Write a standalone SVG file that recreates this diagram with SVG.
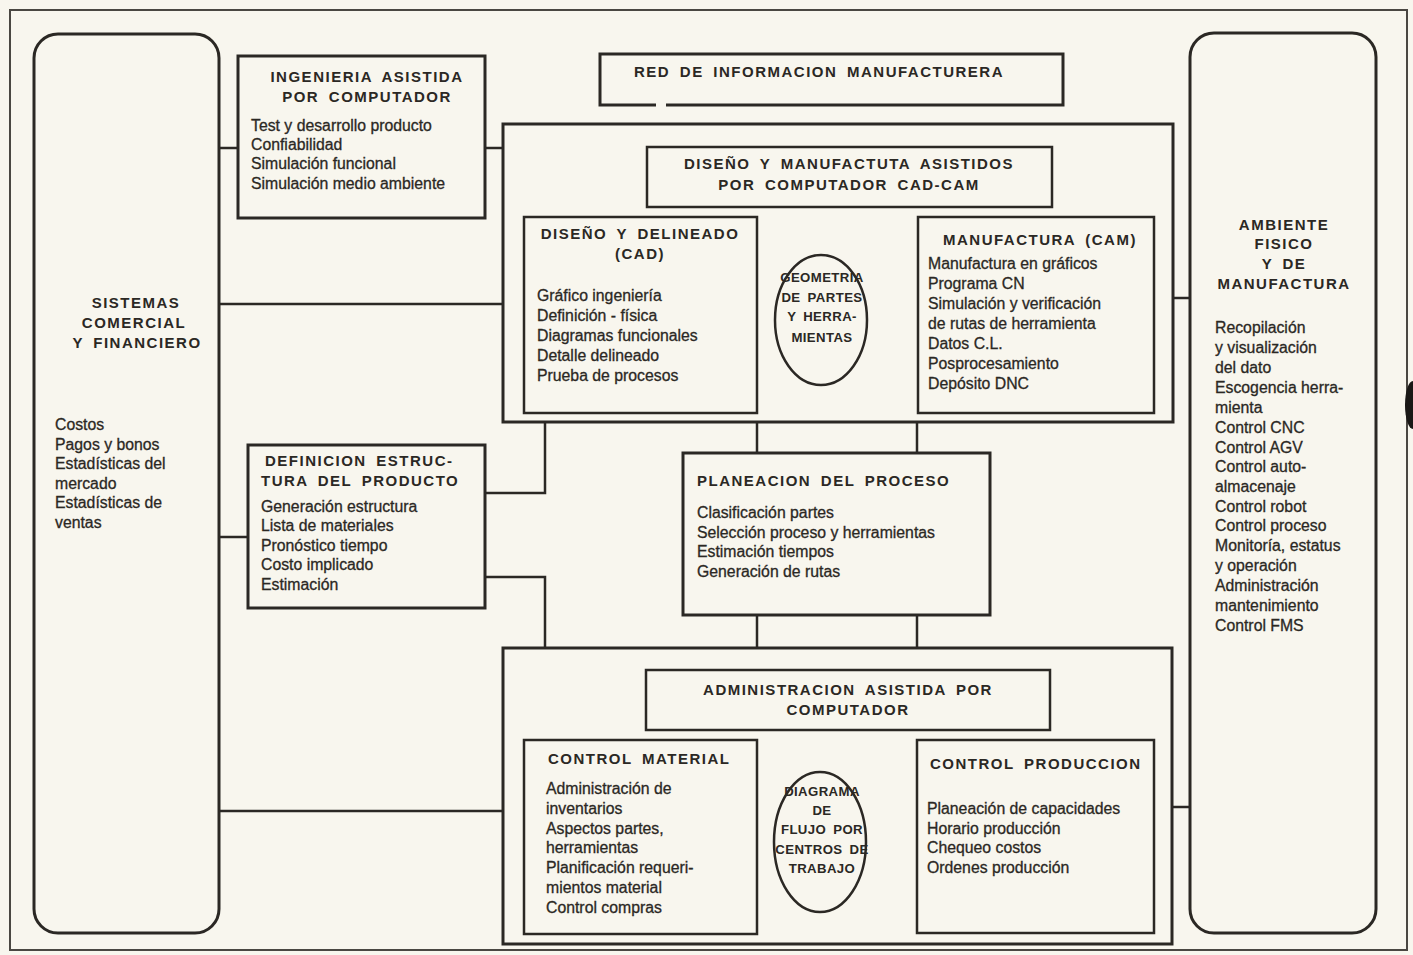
<svg xmlns="http://www.w3.org/2000/svg" width="1413" height="955" viewBox="0 0 1413 955">
<style>
.bg{fill:#f8f6ee}
.box{fill:none;stroke:#2b2824;stroke-width:3}
.ibox{fill:none;stroke:#2b2824;stroke-width:2.5}
.frame{fill:none;stroke:#4a4742;stroke-width:2}
.conn{fill:none;stroke:#2b2824;stroke-width:2.5}
.h{font-family:"Liberation Sans",Arial,Helvetica,sans-serif;font-weight:bold;font-size:15px;letter-spacing:1.5px;word-spacing:4px;fill:#2b2824}
.e{font-family:"Liberation Sans",Arial,Helvetica,sans-serif;font-weight:bold;font-size:13.2px;letter-spacing:0.4px;word-spacing:3px;fill:#2b2824;text-anchor:middle}
.t{font-family:"Liberation Sans",Arial,Helvetica,sans-serif;font-size:15.8px;fill:#2b2824;stroke:#2b2824;stroke-width:0.3}
.c{text-anchor:middle}
</style>
<rect class="bg" x="0" y="0" width="1413" height="955"/>
<rect class="frame" x="10" y="10" width="1397" height="940"/>
<ellipse cx="1413" cy="405" rx="8" ry="24" fill="#1a1816"/>

<g id="connectors">
<line class="conn" x1="219" y1="148" x2="238" y2="148"/>
<line class="conn" x1="485" y1="148" x2="503" y2="148"/>
<line class="conn" x1="219" y1="304" x2="503" y2="304"/>
<line class="conn" x1="1173" y1="298" x2="1190" y2="298"/>
<line class="conn" x1="219" y1="537" x2="248" y2="537"/>
<path class="conn" d="M485,493 H545 V422"/>
<path class="conn" d="M485,577 H545 V648"/>
<line class="conn" x1="757" y1="422" x2="757" y2="453"/>
<line class="conn" x1="917" y1="422" x2="917" y2="453"/>
<line class="conn" x1="757" y1="615" x2="757" y2="648"/>
<line class="conn" x1="917" y1="615" x2="917" y2="648"/>
<line class="conn" x1="219" y1="811" x2="503" y2="811"/>
<line class="conn" x1="1172" y1="807" x2="1190" y2="807"/>
</g>

<g id="sistemas">
<rect class="box" x="34" y="34" width="185" height="899" rx="24"/>
<text class="h c" x="136" y="308">SISTEMAS</text>
<text class="h c" x="134" y="328">COMERCIAL</text>
<text class="h c" x="137" y="348">Y FINANCIERO</text>
<text class="t" x="55" y="430">Costos</text>
<text class="t" x="55" y="450">Pagos y bonos</text>
<text class="t" x="55" y="469">Estadísticas del</text>
<text class="t" x="55" y="489">mercado</text>
<text class="t" x="55" y="508">Estadísticas de</text>
<text class="t" x="55" y="528">ventas</text>
</g>

<g id="ambiente">
<rect class="box" x="1190" y="33" width="186" height="900" rx="24"/>
<text class="h c" x="1284" y="230">AMBIENTE</text>
<text class="h c" x="1284" y="249">FISICO</text>
<text class="h c" x="1284" y="269">Y DE</text>
<text class="h c" x="1284" y="289">MANUFACTURA</text>
<text class="t" x="1215" y="333">Recopilación</text>
<text class="t" x="1215" y="353">y visualización</text>
<text class="t" x="1215" y="373">del dato</text>
<text class="t" x="1215" y="393">Escogencia herra-</text>
<text class="t" x="1215" y="413">mienta</text>
<text class="t" x="1215" y="433">Control CNC</text>
<text class="t" x="1215" y="453">Control AGV</text>
<text class="t" x="1215" y="472">Control auto-</text>
<text class="t" x="1215" y="492">almacenaje</text>
<text class="t" x="1215" y="512">Control robot</text>
<text class="t" x="1215" y="531">Control proceso</text>
<text class="t" x="1215" y="551">Monitoría, estatus</text>
<text class="t" x="1215" y="571">y operación</text>
<text class="t" x="1215" y="591">Administración</text>
<text class="t" x="1215" y="611">mantenimiento</text>
<text class="t" x="1215" y="631">Control FMS</text>
</g>

<g id="ingenieria">
<rect class="box" x="238" y="56" width="247" height="162"/>
<text class="h c" x="367" y="82">INGENIERIA ASISTIDA</text>
<text class="h c" x="367" y="102">POR COMPUTADOR</text>
<text class="t" x="251" y="131">Test y desarrollo producto</text>
<text class="t" x="251" y="150">Confiabilidad</text>
<text class="t" x="251" y="169">Simulación funcional</text>
<text class="t" x="251" y="189">Simulación medio ambiente</text>
</g>

<g id="red">
<path class="box" d="M656,105 H600 V54 H1063 V105 H666"/>
<text class="h c" x="819" y="77">RED DE INFORMACION MANUFACTURERA</text>
</g>

<g id="cadcam">
<rect class="box" x="503" y="124" width="670" height="298"/>
</g>
<g id="cadcam-title">
<rect class="ibox" x="647" y="147" width="405" height="60"/>
<text class="h c" x="849" y="169">DISEÑO Y MANUFACTUTA ASISTIDOS</text>
<text class="h c" x="849" y="190">POR COMPUTADOR CAD-CAM</text>
</g>
<g id="cad">
<rect class="ibox" x="524" y="217" width="233" height="196"/>
<text class="h c" x="640" y="239">DISEÑO Y DELINEADO</text>
<text class="h c" x="640" y="259">(CAD)</text>
<text class="t" x="537" y="301">Gráfico ingeniería</text>
<text class="t" x="537" y="321">Definición - física</text>
<text class="t" x="537" y="341">Diagramas funcionales</text>
<text class="t" x="537" y="361">Detalle delineado</text>
<text class="t" x="537" y="381">Prueba de procesos</text>
</g>
<g id="geometria">
<ellipse class="ibox" cx="821" cy="320" rx="46" ry="65"/>
<text class="e" x="822" y="282">GEOMETRIA</text>
<text class="e" x="822" y="302">DE PARTES</text>
<text class="e" x="822" y="321">Y HERRA-</text>
<text class="e" x="822" y="342">MIENTAS</text>
</g>
<g id="cam">
<rect class="ibox" x="918" y="217" width="236" height="196"/>
<text class="h c" x="1040" y="245">MANUFACTURA (CAM)</text>
<text class="t" x="928" y="269">Manufactura en gráficos</text>
<text class="t" x="928" y="289">Programa CN</text>
<text class="t" x="928" y="309">Simulación y verificación</text>
<text class="t" x="928" y="329">de rutas de herramienta</text>
<text class="t" x="928" y="349">Datos C.L.</text>
<text class="t" x="928" y="369">Posprocesamiento</text>
<text class="t" x="928" y="389">Depósito DNC</text>
</g>

<g id="definicion">
<rect class="box" x="248" y="445" width="237" height="163"/>
<text class="h" x="265" y="466">DEFINICION ESTRUC-</text>
<text class="h" x="261" y="486">TURA DEL PRODUCTO</text>
<text class="t" x="261" y="512">Generación estructura</text>
<text class="t" x="261" y="531">Lista de materiales</text>
<text class="t" x="261" y="551">Pronóstico tiempo</text>
<text class="t" x="261" y="570">Costo implicado</text>
<text class="t" x="261" y="590">Estimación</text>
</g>

<g id="planeacion">
<rect class="box" x="683" y="453" width="307" height="162"/>
<text class="h" x="697" y="486">PLANEACION DEL PROCESO</text>
<text class="t" x="697" y="518">Clasificación partes</text>
<text class="t" x="697" y="538">Selección proceso y herramientas</text>
<text class="t" x="697" y="557">Estimación tiempos</text>
<text class="t" x="697" y="577">Generación de rutas</text>
</g>

<g id="admin">
<rect class="box" x="503" y="648" width="669" height="296"/>
</g>
<g id="admin-title">
<rect class="ibox" x="646" y="670" width="404" height="60"/>
<text class="h c" x="848" y="695">ADMINISTRACION ASISTIDA POR</text>
<text class="h c" x="848" y="715">COMPUTADOR</text>
</g>
<g id="control-material">
<rect class="ibox" x="524" y="740" width="233" height="194"/>
<text class="h" x="548" y="764">CONTROL MATERIAL</text>
<text class="t" x="546" y="794">Administración de</text>
<text class="t" x="546" y="814">inventarios</text>
<text class="t" x="546" y="834">Aspectos partes,</text>
<text class="t" x="546" y="853">herramientas</text>
<text class="t" x="546" y="873">Planificación requeri-</text>
<text class="t" x="546" y="893">mientos material</text>
<text class="t" x="546" y="913">Control compras</text>
</g>
<g id="diagrama">
<ellipse class="ibox" cx="820" cy="842" rx="46" ry="70"/>
<text class="e" x="822" y="796">DIAGRAMA</text>
<text class="e" x="822" y="815">DE</text>
<text class="e" x="822" y="834">FLUJO POR</text>
<text class="e" x="822" y="854">CENTROS DE</text>
<text class="e" x="822" y="873">TRABAJO</text>
</g>
<g id="control-produccion">
<rect class="ibox" x="917" y="740" width="237" height="193"/>
<text class="h" x="930" y="769">CONTROL PRODUCCION</text>
<text class="t" x="927" y="814">Planeación de capacidades</text>
<text class="t" x="927" y="834">Horario producción</text>
<text class="t" x="927" y="853">Chequeo costos</text>
<text class="t" x="927" y="873">Ordenes producción</text>
</g>
</svg>
